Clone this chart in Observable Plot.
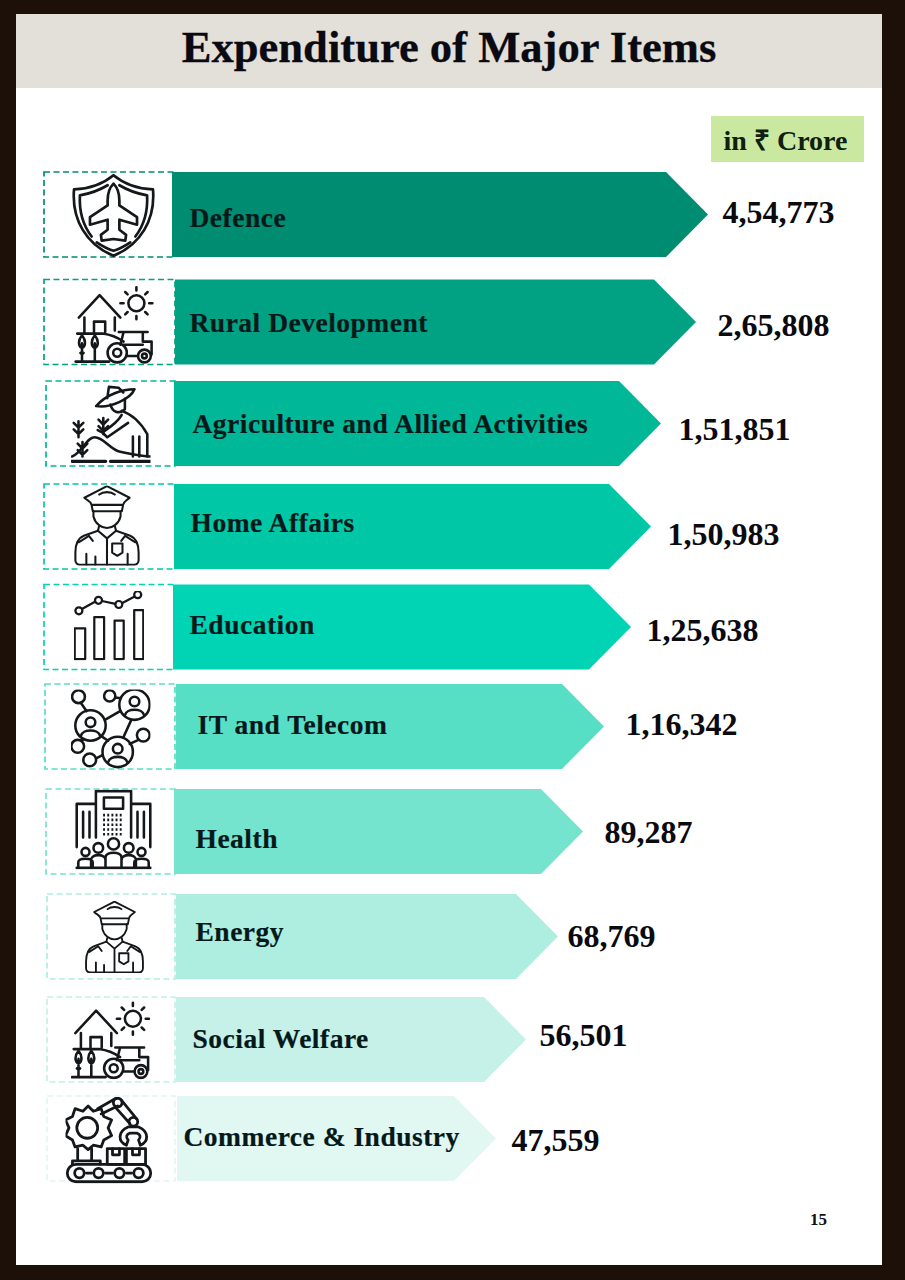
<!DOCTYPE html>
<html>
<head>
<meta charset="utf-8">
<script src="https://cdn.jsdelivr.net/npm/d3@7"></script>
<script src="https://cdn.jsdelivr.net/npm/@observablehq/plot@0.6"></script>
<style>
  html,body{margin:0;padding:0;background:#1d1008;width:905px;height:1280px;overflow:hidden}
  #page{position:absolute;left:16px;top:14px;width:866px;height:1251px;background:#fff}
  #head{position:absolute;left:0;top:0;width:866px;height:74px;background:#e3dfd9;
    font:bold 44.6px "Liberation Serif",serif;color:#0a0a12;text-align:center;line-height:67px;-webkit-text-stroke:.3px #0a0a12}
  #unit{position:absolute;left:695px;top:102px;width:149px;padding-right:4px;height:46px;background:#cbe8a0;
    font:bold 28px "Liberation Serif",serif;color:#102010;text-align:center;line-height:49px}
  #pageno{position:absolute;left:794px;top:1196px;font:bold 17px "Liberation Serif",serif;color:#111}
  #chart{position:absolute;left:0;top:165px}
  #chart svg{display:block;background:transparent}
  .rowlabel text{letter-spacing:.5px}
</style>
</head>
<body>
<div id="page">
  <div id="head">Expenditure of Major Items</div>
  <div id="unit">in ₹ Crore</div>
  <div id="pageno">15</div>
</div>
<div id="chart"></div>
<script>
const items = ["Defence","Rural Development","Agriculture and Allied Activities","Home Affairs","Education","IT and Telecom","Health","Energy","Social Welfare","Commerce & Industry"];
const values = [454773,265808,151851,150983,125638,116342,89287,68769,56501,47559];
const valueLabels = ["4,54,773","2,65,808","1,51,851","1,50,983","1,25,638","1,16,342","89,287","68,769","56,501","47,559"];
const colors = ["#008c70","#00a283","#00b897","#00c7a6","#00d4b4","#57dfc6","#74e4cf","#aeeee1","#c5f1e8","#e1f7f2"];
const icons = ["shield","farm","farmer","police","chart","network","hospital","police","farm","factory"];

// Layout of the page (the infographic's arrow lengths are not proportional to the values)
const xBreaks = [0,47559,56501,68769,89287,116342,125638,150983,151851,265808,454773];
const xRange  = [174,496,526,558,583,604,631,651,661,696,708];
const rowCentres = [49.5,157,258.5,361.5,462,561.5,666.5,771.5,874.5,973.5];
const rowHalf = 42.5, headPx = 42;
const barStartPx = [-2,1,0,0,-1,2,0,2,2,3];
const labelDx = [15,15,18,16,15,23,21,21,18,9];
const labelDy = [3,1,0,-4,-2,-2,7,-5,-1,-2];
const valueDx = [14,21,17,16,15,21,21,9,13,15];
const valueDy = [-2,3,6,8,3,-2,1,0,-4,2];
const iconDx = [-61,-60.5,-64,-67.5,-65.5,-64,-61,-60,-64,-65.5];
const iconDy = [0.5,1.5,0.5,-1.5,-2,2.5,-2.5,0,-0.5,1];
const iconSize = [84,80,80,80,70,80,80,72,80,87];
const boxLeft = [-130,-130,-128,-130,-130,-129,-128,-127,-127,-127];

const ink = 'fill="none" stroke="#15181a" stroke-width="3.2" stroke-linejoin="round" stroke-linecap="round"';
const iconArt = {
 shield:`<path d="M50 2C62 12 79 18 97 19C100 55 82 85 50 98C18 85 0 55 3 19C21 18 38 12 50 2Z"/>
  <path d="M43 14C33 20 22 24 10 26C9 45 14 62 24 75M57 14C67 20 78 24 90 26C91 45 86 62 76 75M30 82C36 86 43 90 50 92C57 90 64 86 70 82"/>
  <path d="M50 12C46 16 43 24 43 32L43 38L22 52L22 61L43 55L43 67L35 73L36 80L50 78L64 80L65 73L57 67L57 55L78 61L78 52L57 38L57 32C57 24 54 16 50 12Z"/>`,
 farm:`<path d="M6 42L32 14L58 42M13 42V62M51 42V58M25 62V47H39V60M4 62H36C50 64 56 68 62 72"/>
  <circle cx="78" cy="24" r="10"/><path d="M78 4V8M78 40V44M58 24H62M94 24H98M64 10L67 13M92 10L89 13M64 38L67 35M92 38L89 35"/>
  <path d="M10 96V74M8 86L10 88L12 86M10 64C5 70 5 78 10 80C15 78 15 70 10 64ZM26 96V74M26 64C21 70 21 78 26 80C31 78 31 70 26 64ZM2 97H44"/>
  <path d="M56 60H92M62 60L58 76M86 60V72H97V88M62 76H86"/><circle cx="54" cy="86" r="12"/><circle cx="54" cy="86" r="5"/><circle cx="88" cy="90" r="8"/><circle cx="88" cy="90" r="3"/><path d="M66 90H80"/>`,
 farmer:`<path d="M32 27C45 12 65 6 80 6C75 18 50 30 32 27ZM46 17L48 3L60 4L66 10"/>
  <path d="M50 25C52 34 60 38 68 31V18"/>
  <path d="M64 33C76 37 88 48 96 62V90M78 65V90M86 65V90M72 48L46 66L40 60M64 38C60 46 52 52 40 60L34 57"/>
  <path d="M41 42V62M35 44L41 50L47 44M35 52L41 58L47 52M10 46V66M4 48L10 54L16 48M4 56L10 62L16 56M15 72V90M9 74L15 80L21 74M9 82L15 88L21 82"/>
  <path d="M2 90C14 86 20 66 30 66C42 66 50 82 62 84C72 86 90 90 100 90"/>
  <path d="M2 96H44M50 96H100" stroke-width="4"/>`,
 police:`<path d="M50 1L85 19C80 24 76 24 75 30H26C25 24 20 24 15 19ZM26 30L28 40H73L75 30M38 14C44 9 56 9 62 14"/>
  <path d="M29 40V48C32 60 42 66 50 66C58 66 68 60 71 48V40M38 62L36 70M62 62L64 70"/>
  <path d="M36 70L14 78C4 82 1 92 1 104V116C1 120 4 123 8 123H92C96 123 99 120 99 116V104C99 92 96 82 86 78L64 70"/>
  <path d="M36 70L50 82L64 70M50 82V123M6 88L22 78L28 86M94 88L78 78L72 86M58 90H74V104L66 109L58 104ZM18 106V123M82 106V123M32 110V123"/>`,
 chart:`<circle cx="7" cy="29" r="5"/><circle cx="35" cy="14" r="5"/><circle cx="64" cy="20" r="5"/><circle cx="91" cy="6" r="5"/><path d="M12 26L30 16M40 15L59 19M69 18L86 9"/>
  <rect x="1" y="54" width="15" height="44"/><rect x="29" y="38" width="14" height="60"/><rect x="58" y="43" width="13" height="55"/><rect x="86" y="28" width="13" height="70"/>`,
 network:`<circle cx="10" cy="9" r="8"/><circle cx="49" cy="8" r="7"/><circle cx="80" cy="19" r="19"/><circle cx="80" cy="15" r="6"/><path d="M68 32C70 23 90 23 92 32"/>
  <circle cx="25" cy="45" r="19"/><circle cx="25" cy="41" r="6"/><path d="M13 58C15 49 35 49 37 58"/>
  <circle cx="59" cy="78" r="19"/><circle cx="59" cy="74" r="6"/><path d="M47 91C49 82 69 82 71 91"/>
  <circle cx="91" cy="57" r="8"/><circle cx="9" cy="71" r="8"/><circle cx="24" cy="88" r="8"/>
  <path d="M13 17L20 27M56 10L63 11M43 38L62 27M76 38L66 60M85 63L74 68M13 64L17 62M32 86L40 82M38 58L47 64"/>`,
 hospital:`<path d="M28 60V2H72V60M4 72V18H28M72 18H96V72"/><rect x="38" y="10" width="24" height="14"/>
  <path d="M12 28V60M20 28V60M80 28V60M88 28V60"/><path d="M37 32H63M37 38H63M37 44H63M37 50H63M37 56H63" stroke-dasharray="2.4 2.8" stroke-linecap="butt"/>
  <circle cx="15" cy="78" r="5"/><circle cx="31" cy="73" r="6"/><circle cx="50" cy="68" r="7"/><circle cx="69" cy="73" r="6"/><circle cx="85" cy="78" r="5"/>
  <path d="M6 98V91C6 85 24 85 24 91V98M22 98V88C22 80 40 80 40 88V98M40 98V85C40 77 60 77 60 85V98M60 98V88C60 80 78 80 78 88V98M76 98V91C76 85 94 85 94 91V98M4 98H96"/>`,
 factory:`<circle cx="25" cy="36" r="12"/><path d="M25 11L31 17L40 14L43 23L52 27L48 36L52 45L43 50L40 58L31 56L25 61L19 56L10 58L7 50L-1 45L3 36L-1 27L7 23L10 14L19 17Z" transform="translate(1 0)"/>
  <path d="M37 14L58 2M64 4L82 26M41 20L60 11M58 13L74 31"/><circle cx="60" cy="7" r="5"/><circle cx="78" cy="29" r="5"/>
  <path d="M72 35C60 40 60 52 70 56L72 50C69 47 70 43 74 42H82C86 43 87 47 84 50L86 56C96 52 96 40 84 35Z"/>
  <rect x="48" y="60" width="20" height="18"/><rect x="70" y="60" width="22" height="18"/><path d="M54 60V67H62V60M77 60V67H85V60"/>
  <path d="M14 60V74M30 60V74M8 74H40V78M8 74V78"/><rect x="2" y="78" width="96" height="20" rx="10"/><circle cx="16" cy="88" r="5.5"/><circle cx="38" cy="88" r="5.5"/><circle cx="62" cy="88" r="5.5"/><circle cx="84" cy="88" r="5.5"/><path d="M24 88H30M46 88H54M70 88H76"/>`
};
const iconBox = {police:"0 0 100 124", shield:"0 0 100 100", farm:"0 0 100 100", farmer:"0 0 100 100", chart:"0 0 100 100", network:"0 0 100 100", hospital:"0 0 100 100", factory:"0 0 100 100"};
const iconUrl = name => "data:image/svg+xml;charset=utf-8," + encodeURIComponent(
  `<svg xmlns="http://www.w3.org/2000/svg" viewBox="${iconBox[name]}"><g ${ink}>${iconArt[name]}</g></svg>`);

const xOpts = {type:"linear", domain:xBreaks, range:xRange, axis:null};
const yOpts = {type:"linear", domain:d3.range(items.length), range:rowCentres, axis:null};
const xs = Plot.scale({x:xOpts});
const ys = Plot.scale({y:yOpts});

const rows = items.map((item,i)=>({item,i,value:values[i],label:valueLabels[i],icon:icons[i],
  top:ys.invert(ys.apply(i)-rowHalf), bottom:ys.invert(ys.apply(i)+rowHalf),
  start:xs.invert(xs.apply(0)+barStartPx[i]),
  neck:xs.invert(xs.apply(values[i])-headPx)}));

// each arrow is a three-row area: the right edge runs neck -> tip -> neck
const arrows = rows.flatMap(r=>[
  {item:r.item,y:r.top,x1:r.start,x2:r.neck},
  {item:r.item,y:r.i,x1:r.start,x2:r.value},
  {item:r.item,y:r.bottom,x1:r.start,x2:r.neck}
]);

const serifBold = '"Liberation Serif",serif';
const plot = Plot.plot({
  width:905, height:1030, margin:0,
  x:xOpts, y:yOpts,
  color:{type:"ordinal", domain:items, range:colors, legend:false},
  marks:[
    ...rows.map((r,i)=>Plot.rect([r],{x1:0,x2:0,y1:"top",y2:"bottom",insetLeft:boxLeft[i],insetRight:-1,
      fill:"none",stroke:colors[i],strokeWidth:1.7,strokeDasharray:"6 3.5"})),
    Plot.areaX(arrows,{y:"y",x1:"x1",x2:"x2",z:"item",fill:"item",curve:"linear"}),
    ...rows.map((r,i)=>Plot.image([r],{x:0,y:"i",src:d=>iconUrl(d.icon),width:iconSize[i],height:iconSize[i],dx:iconDx[i],dy:iconDy[i]})),
    ...rows.map((r,i)=>Plot.text([r],{x:0,y:"i",text:"item",textAnchor:"start",dx:labelDx[i],dy:labelDy[i],className:"rowlabel",
      fontFamily:serifBold,fontWeight:"bold",fontSize:27.5,fill:"#06191a",stroke:"#06191a",strokeWidth:0.2})),
    ...rows.map((r,i)=>Plot.text([r],{x:"value",y:"i",text:"label",textAnchor:"start",dx:valueDx[i],dy:valueDy[i],
      fontFamily:serifBold,fontWeight:"bold",fontSize:32,fill:"#0a0a0f"}))
  ]
});
document.getElementById("chart").appendChild(plot);
</script>
</body>
</html>
